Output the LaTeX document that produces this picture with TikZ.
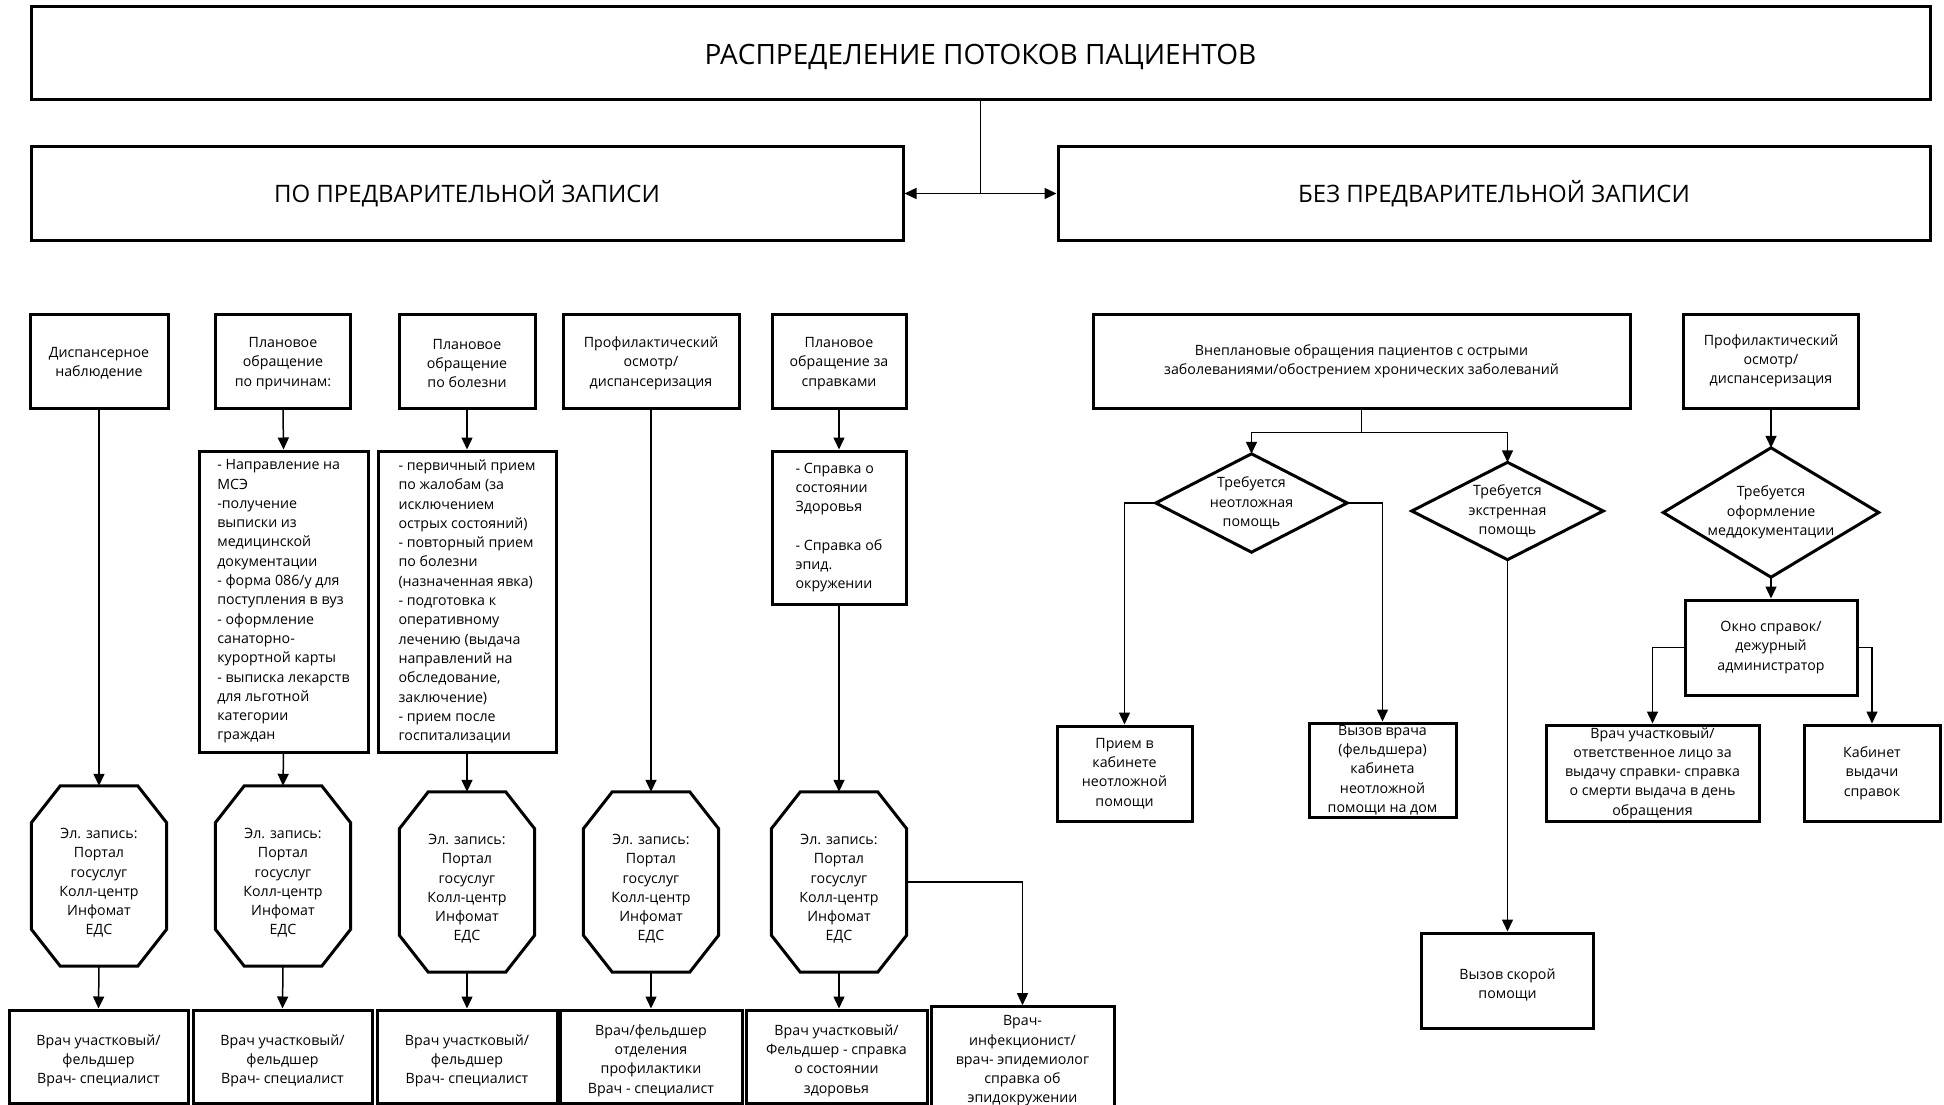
\documentclass[tikz,border=0pt]{standalone}
\usepackage{fontspec}
\setmainfont{Open Sans}
\usetikzlibrary{arrows.meta,calc}
\newcommand\octdraw[1]{\draw[line width=3pt] ([xshift=29pt]#1.north west) -- ([xshift=-29pt]#1.north east) -- ([yshift=-37pt]#1.north east) -- ([yshift=37pt]#1.south east) -- ([xshift=-29pt]#1.south east) -- ([xshift=29pt]#1.south west) -- ([yshift=37pt]#1.south west) -- ([yshift=-37pt]#1.north west) -- cycle;}
\newcommand\diadraw[1]{\draw[line width=3pt] (#1.north) -- (#1.east) -- (#1.south) -- (#1.west) -- cycle;}
\newcommand\octtext{\rule{0pt}{24pt}Эл. запись:\\Портал\\госуслуг\\Колл-центр\\Инфомат\\ЕДС}
\newcommand\lowstrut{\rule{0pt}{19pt}}
\begin{document}
\begin{tikzpicture}[x=1pt,y=-1pt,
  every node/.style={font=\fontsize{14.2}{19.3}\selectfont, inner sep=0pt, align=center},
  bx/.style={draw, line width=3pt},
  big/.style={font=\fontsize{24}{28}\selectfont},
  octn/.style={minimum width=135pt, minimum height=180pt},
  conn/.style={line width=1.5pt, -{Triangle[length=12pt,width=11pt]}},
  plain/.style={line width=1.5pt}]
\fill[white] (0,0) rectangle (1944,1105);
\useasboundingbox (0,0) rectangle (1944,1105);

% top level
\node[bx, font=\fontsize{28}{32}\selectfont, minimum width=1899pt, minimum height=93pt] (title) at (980.5,53.5) {\rule{0pt}{28pt}РАСПРЕДЕЛЕНИЕ ПОТОКОВ ПАЦИЕНТОВ};
\node[bx, big, minimum width=872pt, minimum height=93pt] (po) at (467,193.5) {ПО ПРЕДВАРИТЕЛЬНОЙ ЗАПИСИ};
\node[bx, big, minimum width=872pt, minimum height=93pt] (bez) at (1494,193.5) {БЕЗ ПРЕДВАРИТЕЛЬНОЙ ЗАПИСИ};

% left: row 1
\node[bx, minimum width=138pt, minimum height=94pt] (d1) at (99,361) {\rule{0pt}{15pt}Диспансерное\\наблюдение};
\node[bx, minimum width=135pt, minimum height=94pt] (p1) at (283,361) {\rule{0pt}{15pt}Плановое\\обращение\\по причинам:};
\node[bx, minimum width=136pt, minimum height=94pt] (p2) at (467,361) {\rule{0pt}{15pt}Плановое\\обращение\\по болезни};
\node[bx, minimum width=176pt, minimum height=94pt] (pr) at (651,361) {\rule{0pt}{15pt}Профилактический\\осмотр/\\диспансеризация};
\node[bx, minimum width=134pt, minimum height=94pt] (sp) at (839,361) {\rule{0pt}{15pt}Плановое\\обращение за\\справками};

% left: row 2
\node[bx, align=left, minimum width=169pt, minimum height=301pt] (l1) at (283.5,601.5) {- Направление на\\МСЭ\\-получение\\выписки из\\медицинской\\документации\\- форма 086/у для\\поступления в вуз\\- оформление\\санаторно-\\курортной карты\\- выписка лекарств\\для льготной\\категории\\граждан};
\node[bx, align=left, minimum width=178pt, minimum height=301pt] (l2) at (467,601.5) {- первичный прием\\по жалобам (за\\исключением\\острых состояний)\\- повторный прием\\по болезни\\(назначенная явка)\\- подготовка к\\оперативному\\лечению (выдача\\направлений на\\обследование,\\заключение)\\- прием после\\госпитализации};
\node[bx, align=left, minimum width=134pt, minimum height=153pt] (l3) at (839,527.5) {- Справка о\\состоянии\\Здоровья\\[19.3pt]- Справка об\\эпид.\\окружении};

% octagons
\node[octn] (o1) at (99,876) {\octtext};
\node[octn] (o2) at (283,876) {\octtext};
\node[octn] (o3) at (467,882) {\octtext};
\node[octn] (o4) at (651,882) {\octtext};
\node[octn] (o5) at (839,882) {\octtext};
\octdraw{o1}\octdraw{o2}\octdraw{o3}\octdraw{o4}\octdraw{o5}

% bottom boxes
\node[bx, minimum width=179pt, minimum height=93pt] (b1) at (98.5,1056.5) {\lowstrut Врач участковый/\\фельдшер\\Врач- специалист};
\node[bx, minimum width=179pt, minimum height=93pt] (b2) at (282.5,1056.5) {\lowstrut Врач участковый/\\фельдшер\\Врач- специалист};
\node[bx, minimum width=180pt, minimum height=93pt] (b3) at (467,1056.5) {\lowstrut Врач участковый/\\фельдшер\\Врач- специалист};
\node[bx, minimum width=182pt, minimum height=93pt] (b4) at (651,1056.5) {\lowstrut Врач/фельдшер\\отделения\\профилактики\\Врач - специалист};
\node[bx, minimum width=181pt, minimum height=93pt] (b5) at (836.5,1056.5) {\lowstrut Врач участковый/\\Фельдшер - справка\\о состоянии\\здоровья};
\node[bx, minimum width=183pt, minimum height=93pt] (b6) at (1022.5,1056.5) {\lowstrut Врач-\\инфекционист/\\врач- эпидемиолог\\справка об\\эпидокружении};

% right side
\node[bx, minimum width=537pt, minimum height=94pt] (vn) at (1361.5,361) {Внеплановые обращения пациентов с острыми\\заболеваниями/обострением хронических заболеваний};
\node[minimum width=191pt, minimum height=98pt] (dm1) at (1251.5,503) {Требуется\\неотложная\\помощь};
\node[minimum width=191pt, minimum height=97pt] (dm2) at (1507.5,511) {Требуется\\экстренная\\помощь};
\diadraw{dm1}\diadraw{dm2}
\node[bx, minimum width=135pt, minimum height=95pt] (pk) at (1124.5,773.5) {Прием в\\кабинете\\неотложной\\помощи};
\node[bx, minimum width=147pt, minimum height=94pt] (vz) at (1382.5,770) {Вызов врача\\(фельдшера)\\кабинета\\неотложной\\помощи на дом};
\node[bx, minimum width=172pt, minimum height=95pt] (sk) at (1507.5,980.5) {\lowstrut Вызов скорой\\помощи};

\node[bx, minimum width=175pt, minimum height=94pt] (pr2) at (1771,361) {Профилактический\\осмотр/\\диспансеризация};
\node[minimum width=215pt, minimum height=129pt] (dm3) at (1771,512.5) {Требуется\\оформление\\меддокументации};
\diadraw{dm3}
\node[bx, minimum width=172pt, minimum height=95pt] (ok) at (1771,647.5) {Окно справок/\\дежурный\\администратор};
\node[bx, minimum width=213pt, minimum height=96pt] (vu) at (1652.5,773) {Врач участковый/\\ответственное лицо за\\выдачу справки- справка\\о смерти выдача в день\\обращения};
\node[bx, minimum width=136pt, minimum height=96pt] (kb) at (1872,773) {Кабинет\\выдачи\\справок};

% connectors: top
\draw[plain] (title.south) -- (title.south |- po.east) coordinate (j);
\draw[conn] (j) -- (po.east);
\draw[conn] (j) -- (bez.west);

% connectors: left
\draw[conn] (d1.south) -- (o1.north);
\draw[conn] (p1.south) -- (l1.north);
\draw[conn] (l1.south) -- (o2.north);
\draw[conn] (p2.south) -- (l2.north);
\draw[conn] (l2.south) -- (o3.north);
\draw[conn] (pr.south) -- (o4.north);
\draw[conn] (sp.south) -- (l3.north);
\draw[conn] (l3.south) -- (o5.north);
\draw[conn] (o1.south) -- (b1.north);
\draw[conn] (o2.south) -- (b2.north);
\draw[conn] (o3.south) -- (b3.north);
\draw[conn] (o4.south) -- (b4.north);
\draw[conn] (o5.south) -- (o5.south |- b5.north);
\draw[conn] (o5.east) -| (b6.north);

% connectors: right
\draw[plain] (vn.south) -- ++(0,23) coordinate (vj);
\draw[conn] (vj) -| (dm1.north);
\draw[conn] (vj) -| (dm2.north);
\draw[conn] (dm1.west) -| (pk.north);
\draw[conn] (dm1.east) -| (vz.north);
\draw[conn] (dm2.south) -- (sk.north);
\draw[conn] (pr2.south) -- (dm3.north);
\draw[conn] (dm3.south) -- (ok.north);
\draw[conn] (ok.west) -| (vu.north);
\draw[conn] (ok.east) -| (kb.north);
\end{tikzpicture}
\end{document}
